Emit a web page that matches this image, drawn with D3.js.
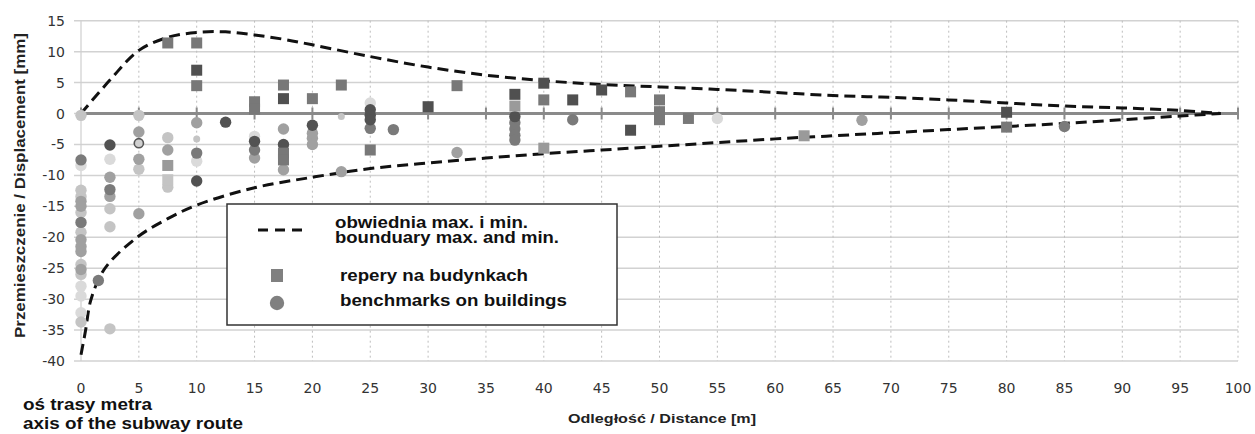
<!DOCTYPE html>
<html><head><meta charset="utf-8">
<script src="https://cdn.jsdelivr.net/npm/d3@7"></script>
<style>body{margin:0;background:#fff}svg{display:block}</style>
</head><body><svg id="c" width="1255" height="434"></svg>
<script>
// ---- data ----
const xTicks = [0,5,10,15,20,25,30,35,40,45,50,55,60,65,70,75,80,85,90,95,100];
const yTicks = [15,10,5,0,-5,-10,-15,-20,-25,-30,-35,-40];
const envelopeMax = [[0,0],[2.5,5.4],[5,10.2],[7.5,12.3],[10,13.1],[12.5,13.2],[15,12.7],[17.5,12],[20,11.1],[25,9.2],[30,7.5],[35,6.2],[40,5.3],[45,4.7],[50,4.3],[55,3.9],[60,3.4],[65,2.9],[70,2.6],[75,2.2],[80,1.7],[85,1.2],[90,0.9],[95,0.5],[98.5,0]];
const envelopeMin = [[0,-39],[0.4,-35],[0.8,-30.5],[1.6,-26.5],[2.5,-24],[5,-19.8],[7.5,-17],[10,-14.8],[15,-12],[20,-10.3],[25,-8.9],[30,-8],[35,-7.2],[40,-6.5],[45,-5.9],[50,-5.3],[55,-4.7],[60,-4.1],[65,-3.6],[70,-3.1],[75,-2.6],[80,-2.1],[85,-1.6],[90,-1],[95,-0.4],[98.5,0]];
const squaresDark = [[10,7],[17.5,2.4],[30,1.1],[37.5,3.1],[40,4.9],[42.5,2.2],[45,3.8],[47.5,-2.7],[80,0.2]];
const squaresMid = [[7.5,11.4],[10,11.4],[10,4.5],[15,1.9],[15,0.7],[17.5,4.6],[17.5,-6.4],[17.5,-7.5],[20,2.4],[22.5,4.6],[25,-5.9],[32.5,4.5],[40,2.2],[47.5,3.5],[50,2.2],[50,0.3],[50,-1],[52.5,-0.8],[80,-2.2]];
const squaresLight = [[7.5,-8.4],[37.5,1.2],[40,-5.6],[62.5,-3.6]];
const squaresPale = [[7.5,-10.7]];
const circlesDark = [[2.5,-5.1],[10,-10.9],[12.5,-1.4],[15,-4.5],[17.5,-5],[20,-1.9],[25,0.6],[25,-0.3],[25,-1],[37.5,-0.5]];
const circlesMid = [[0,-7.5],[0,-17.6],[1.5,-27],[2.5,-12.3],[10,-6.4],[15,-5.9],[25,-2.4],[27,-2.6],[37.5,-1.5],[37.5,-2.5],[37.5,-3.5],[37.5,-4.3],[42.5,-1],[85,-2.1]];
const circlesLight = [[0,-14.2],[0,-15],[0,-20.4],[0,-21.5],[0,-22.3],[0,-25.2],[2.5,-10.3],[2.5,-13.4],[5,-3],[5,-7.4],[5,-16.2],[7.5,-5.9],[10,-1.5],[15,-7.2],[17.5,-2.5],[17.5,-9.1],[20,-3.2],[20,-4],[20,-5],[22.5,-9.4],[32.5,-6.3],[67.5,-1.1]];
const circlesPale = [[0,-0.3],[0,-12.4],[0,-13.4],[0,-16],[0,-19.2],[0,-24.4],[0,-26],[0,-33.7],[2.5,-15.4],[2.5,-18.3],[2.5,-34.8],[5,-0.3],[5,-9],[7.5,-3.9],[7.5,-11.9]];
const circlesFaint = [[0,-8.4],[0,-27.9],[0,-29.5],[0,-32.2],[2.5,-7.4],[10,-7.7],[15,-3.7],[25,1.7],[55,-0.8]];
const circlesSmall = [[10,-4.1],[22.5,-0.5]];
const circlesRing = [[5,-4.8]];
const legendLabels = ["obwiednia max. i min.","bounduary max. and min.","repery na budynkach","benchmarks on buildings"];

// ---- drawing ----
const svg = d3.select("#c");
svg.append("rect").attr("width",1255).attr("height",434).attr("fill","#fff");
const x = d3.scaleLinear().domain([0,100]).range([81,1238]);
const y = d3.scaleLinear().domain([-40,15]).range([361,20.7]);

// horizontal gridlines
svg.append("g").selectAll("line").data(yTicks).join("line")
  .attr("x1",74).attr("x2",x(100)).attr("y1",d=>y(d)).attr("y2",d=>y(d))
  .attr("stroke","#d2d2d2").attr("stroke-width",1.5);
// vertical dotted gridlines
svg.append("g").selectAll("line").data(xTicks.filter(d=>d>0)).join("line")
  .attr("x1",d=>x(d)).attr("x2",d=>x(d)).attr("y1",y(15)).attr("y2",y(-40))
  .attr("stroke","#bdbdbd").attr("stroke-width",1).attr("stroke-dasharray","2,3");
// y axis line
svg.append("line").attr("x1",x(0)).attr("x2",x(0)).attr("y1",y(15)).attr("y2",y(-40))
  .attr("stroke","#cfcfcf").attr("stroke-width",1.2);
// zero line with ticks
svg.append("line").attr("x1",x(0)).attr("x2",x(100)).attr("y1",y(0)).attr("y2",y(0))
  .attr("stroke","#8a8a8a").attr("stroke-width",3);
svg.append("g").selectAll("line").data(xTicks).join("line")
  .attr("x1",d=>x(d)).attr("x2",d=>x(d)).attr("y1",y(0)-6).attr("y2",y(0)+6)
  .attr("stroke","#8a8a8a").attr("stroke-width",2);

// tick labels
svg.append("g").selectAll("text").data(yTicks).join("text")
  .attr("x",65).attr("y",d=>y(d)).attr("dy","0.36em").attr("text-anchor","end")
  .attr("font-family","DejaVu Sans").attr("font-size",14).attr("fill","#333")
  .text(d=>d);
svg.append("g").selectAll("text").data(xTicks).join("text")
  .attr("x",d=>x(d)).attr("y",393).attr("text-anchor","middle")
  .attr("font-family","DejaVu Sans").attr("font-size",14).attr("fill","#333")
  .text(d=>d);

// envelope
const line = d3.line().x(d=>x(d[0])).y(d=>y(d[1])).curve(d3.curveCatmullRom.alpha(0.5));
[envelopeMax, envelopeMin].forEach(env=>{
  svg.append("path").attr("d",line(env)).attr("fill","none")
    .attr("stroke","#111").attr("stroke-width",3).attr("stroke-dasharray","11,6");
});

// points
const sq = 11, rr = 5.7;
function squares(data, color){
  svg.append("g").selectAll("rect").data(data).join("rect")
    .attr("x",d=>x(d[0])-sq/2).attr("y",d=>y(d[1])-sq/2).attr("width",sq).attr("height",sq)
    .attr("fill",color);
}
function circles(data, color, r, stroke){
  svg.append("g").selectAll("circle").data(data).join("circle")
    .attr("cx",d=>x(d[0])).attr("cy",d=>y(d[1])).attr("r",r)
    .attr("fill",color).attr("stroke",stroke||"none").attr("stroke-width",stroke?1.6:0);
}
circles(circlesFaint,"#dadada",rr);
circles(circlesPale,"#c4c4c4",rr);
circles(circlesLight,"#a0a0a0",rr);
circles(circlesMid,"#7a7a7a",rr);
circles(circlesDark,"#525252",rr);
circles(circlesSmall,"#c4c4c4",3.5);
circles(circlesRing,"#d0d0d0",4.6,"#555");
squares(squaresPale,"#c4c4c4");
squares(squaresLight,"#9a9a9a");
squares(squaresMid,"#787878");
squares(squaresDark,"#505050");

// legend
const lg = svg.append("g");
lg.append("rect").attr("x",227).attr("y",204).attr("width",390).attr("height",121)
  .attr("fill","#fff").attr("stroke","#333").attr("stroke-width",1.5);
lg.append("line").attr("x1",258).attr("x2",303).attr("y1",230).attr("y2",230)
  .attr("stroke","#111").attr("stroke-width",3).attr("stroke-dasharray","10,7");
lg.append("rect").attr("x",271).attr("y",269).attr("width",12).attr("height",13).attr("fill","#808080");
lg.append("circle").attr("cx",277).attr("cy",303).attr("r",7.2).attr("fill","#808080");
const legPos = [[335,228,193],[335,243,224],[340,281,188],[340,306,227]];
lg.selectAll("text").data(legendLabels).join("text")
  .attr("x",(d,i)=>legPos[i][0]).attr("y",(d,i)=>legPos[i][1])
  .attr("textLength",(d,i)=>legPos[i][2]).attr("lengthAdjust","spacingAndGlyphs")
  .attr("font-family","Liberation Sans, Arial").attr("font-weight","bold").attr("font-size",16)
  .attr("fill","#111").text(d=>d);

// axis titles
svg.append("text").attr("transform","translate(25,185.5) rotate(-90)")
  .attr("text-anchor","middle").attr("textLength",305).attr("lengthAdjust","spacingAndGlyphs")
  .attr("font-family","Liberation Sans, Arial").attr("font-weight","bold").attr("font-size",14)
  .attr("fill","#222").text("Przemieszczenie / Displacement [mm]");
svg.append("text").attr("x",662).attr("y",423).attr("text-anchor","middle")
  .attr("textLength",188).attr("lengthAdjust","spacingAndGlyphs")
  .attr("font-family","Liberation Sans, Arial").attr("font-weight","bold").attr("font-size",13)
  .attr("fill","#222").text("Odległość / Distance [m]");
svg.append("text").attr("x",23).attr("y",410)
  .attr("textLength",129).attr("lengthAdjust","spacingAndGlyphs")
  .attr("font-family","Liberation Sans, Arial").attr("font-weight","bold").attr("font-size",16)
  .attr("fill","#111").text("oś trasy metra");
svg.append("text").attr("x",23).attr("y",429)
  .attr("textLength",220).attr("lengthAdjust","spacingAndGlyphs")
  .attr("font-family","Liberation Sans, Arial").attr("font-weight","bold").attr("font-size",16)
  .attr("fill","#111").text("axis of the subway route");
</script></body></html>
